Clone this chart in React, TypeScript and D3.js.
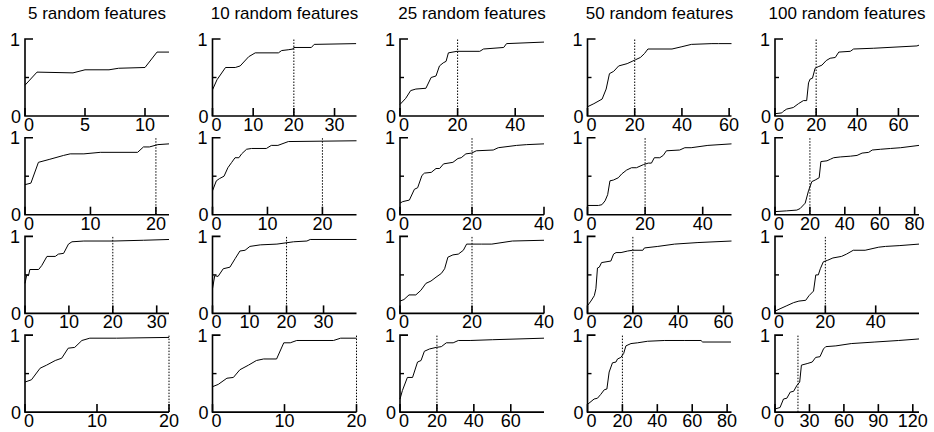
import * as d3 from 'd3';

// titles and layout of the 4 x 5 grid
const titles = ['5 random features', '10 random features', '25 random features', '50 random features', '100 random features'];

// x-axis upper limits per panel (row-major)
const xMax = [
  [12, 35.4, 50, 61, 70],
  [22, 26.2, 40, 50, 82.5],
  [32.8, 38.9, 40, 63.5, 57.2],
  [20, 20, 78, 82.5, 125.4],
];

const xTicks = [
  [[0, 5, 10], [0, 10, 20, 30], [0, 20, 40], [0, 20, 40, 60], [0, 20, 40, 60]],
  [[0, 10, 20], [0, 10, 20], [0, 20, 40], [0, 20, 40], [0, 20, 40, 60, 80]],
  [[0, 10, 20, 30], [0, 10, 20, 30], [0, 20, 40], [0, 20, 40, 60], [0, 20, 40]],
  [[0, 10, 20], [0, 10, 20], [0, 20, 40, 60], [0, 20, 40, 60, 80], [0, 30, 60, 90, 120]],
];

const marker = 20;

// curves: [x, y]
const r0c0 = [[0, 0.40], [1, 0.57], [4, 0.56], [5, 0.60], [7, 0.60], [7.8, 0.62], [10, 0.63], [11, 0.83], [12, 0.83]];
const r0c1 = [[0, 0.34], [1.1, 0.47], [3.2, 0.63], [5.6, 0.63], [6.8, 0.65], [8.9, 0.77], [10.5, 0.82], [16.2, 0.82], [17, 0.85], [18.6, 0.86], [19.8, 0.87], [20, 0.89], [24.3, 0.89], [25, 0.93], [35.3, 0.94]];
const r0c2 = [[0, 0.15], [2, 0.23], [3.7, 0.33], [5.5, 0.35], [9, 0.36], [10.8, 0.50], [12.5, 0.52], [13.7, 0.65], [15, 0.69], [16, 0.71], [16.8, 0.82], [19.8, 0.84], [27.7, 0.84], [29, 0.87], [36, 0.89], [37, 0.94], [50, 0.96]];
const r0c3 = [[0, 0.12], [2.7, 0.16], [6.2, 0.22], [7.9, 0.35], [9.3, 0.55], [11.1, 0.58], [13.2, 0.65], [16.8, 0.68], [18.9, 0.71], [20.3, 0.73], [22.4, 0.76], [24.1, 0.81], [25.6, 0.87], [35.8, 0.87], [40, 0.90], [44, 0.93], [52.7, 0.94], [55.5, 0.94], [61, 0.94]];
const r0c4 = [[0, 0.03], [3.3, 0.04], [4, 0.06], [5.7, 0.09], [8.9, 0.11], [11.4, 0.16], [13.8, 0.20], [15.4, 0.20], [16.3, 0.43], [17.1, 0.48], [18.2, 0.49], [19.5, 0.62], [21, 0.64], [22.8, 0.66], [24.9, 0.72], [26.8, 0.75], [29.3, 0.76], [31, 0.83], [36.6, 0.84], [38.2, 0.87], [48, 0.88], [69, 0.91], [70, 0.92]];

const r1c0 = [[0, 0.39], [0.9, 0.41], [2.05, 0.68], [3.8, 0.72], [5.9, 0.77], [6.9, 0.79], [9, 0.79], [11.5, 0.81], [17.2, 0.81], [18.1, 0.88], [19, 0.88], [20.3, 0.91], [22, 0.92]];
const r1c1 = [[0, 0.31], [0.7, 0.44], [1.3, 0.47], [2.1, 0.50], [2.8, 0.61], [3.5, 0.68], [4.1, 0.74], [4.8, 0.74], [5.3, 0.79], [6.2, 0.85], [7.1, 0.86], [9.8, 0.86], [10.7, 0.90], [11.9, 0.90], [13.8, 0.95], [26.2, 0.96]];
const r1c2 = [[0, 0.15], [0.75, 0.17], [2.6, 0.19], [4, 0.33], [4.9, 0.35], [6.1, 0.51], [6.8, 0.54], [8.7, 0.55], [10, 0.60], [11, 0.60], [12.1, 0.66], [14.7, 0.68], [16.1, 0.73], [17, 0.74], [18.3, 0.79], [19.9, 0.80], [21.2, 0.83], [25.9, 0.84], [27.3, 0.87], [32.4, 0.90], [35.2, 0.91], [40, 0.92]];
const r1c3 = [[0, 0.12], [3.8, 0.12], [5, 0.13], [6.1, 0.18], [7, 0.26], [7.8, 0.44], [9, 0.45], [10.7, 0.48], [11.9, 0.53], [13.6, 0.58], [15.3, 0.61], [17, 0.61], [19.4, 0.65], [21.1, 0.67], [22.2, 0.67], [23.2, 0.74], [25.1, 0.74], [26.3, 0.77], [27.4, 0.83], [32, 0.84], [33.8, 0.87], [36, 0.87], [41.8, 0.90], [50, 0.92]];
const r1c4 = [[0, 0.04], [6.7, 0.05], [12.5, 0.06], [14.4, 0.08], [17.3, 0.15], [19.2, 0.31], [21.1, 0.43], [23, 0.45], [25.3, 0.48], [26.3, 0.69], [29.8, 0.70], [31.7, 0.72], [33.6, 0.74], [37.4, 0.75], [43.2, 0.76], [47, 0.77], [49.9, 0.80], [53.7, 0.81], [55.7, 0.84], [60.5, 0.85], [66.2, 0.86], [72, 0.87], [82.5, 0.90]];

const r2c0 = [[0, 0.39], [0.4, 0.50], [0.8, 0.49], [1.1, 0.57], [3.1, 0.57], [3.8, 0.62], [5, 0.74], [6.9, 0.74], [7.6, 0.77], [8.8, 0.78], [9.9, 0.90], [10.7, 0.93], [13.4, 0.94], [20.2, 0.94], [27, 0.95], [32.8, 0.96]];
const r2c1 = [[0, 0.32], [0.6, 0.49], [1.5, 0.48], [2.9, 0.58], [4.7, 0.60], [6.1, 0.71], [7.4, 0.81], [8.8, 0.82], [10.1, 0.87], [12.9, 0.89], [17.4, 0.90], [21.9, 0.93], [25.5, 0.94], [26.4, 0.96], [38.9, 0.96]];
const r2c2 = [[0, 0.16], [1.1, 0.18], [2.5, 0.24], [4.4, 0.24], [5.8, 0.30], [7.2, 0.39], [8.6, 0.42], [10, 0.47], [11.5, 0.52], [12.4, 0.58], [13.3, 0.73], [14.7, 0.76], [16.2, 0.77], [17.6, 0.82], [18.5, 0.90], [22.7, 0.90], [25.5, 0.90], [31.2, 0.94], [40, 0.95]];
const r2c3 = [[0, 0.10], [1.5, 0.16], [3, 0.23], [3.7, 0.32], [4.4, 0.59], [5.2, 0.60], [6.2, 0.66], [10.3, 0.68], [11.5, 0.77], [12.6, 0.79], [14.8, 0.79], [17.7, 0.81], [19.9, 0.82], [24.4, 0.82], [25.1, 0.85], [31, 0.87], [38.4, 0.90], [48.7, 0.92], [63.5, 0.94]];
const r2c4 = [[0, 0.03], [2, 0.06], [4.7, 0.10], [7.4, 0.14], [9.5, 0.16], [12.2, 0.17], [13.5, 0.23], [15.3, 0.29], [16.2, 0.50], [17.2, 0.50], [18, 0.58], [19.2, 0.67], [20.9, 0.69], [23, 0.72], [26.4, 0.74], [28.4, 0.77], [31.1, 0.82], [35.8, 0.82], [41.2, 0.86], [43.9, 0.87], [49.3, 0.88], [57.2, 0.90]];

const r3c0 = [[0, 0.39], [0.9, 0.42], [2.1, 0.57], [3, 0.61], [4.2, 0.67], [5.1, 0.70], [6, 0.83], [6.9, 0.84], [7.9, 0.93], [9, 0.96], [12.7, 0.96], [20, 0.97]];
const r3c1 = [[0, 0.33], [0.8, 0.36], [2, 0.44], [2.9, 0.45], [3.8, 0.55], [5, 0.61], [6.1, 0.67], [7.1, 0.69], [8.9, 0.69], [9.9, 0.90], [10.8, 0.90], [11.7, 0.93], [16.8, 0.93], [17.8, 0.96], [20, 0.96]];
const r3c2 = [[0, 0.17], [1.3, 0.28], [4, 0.45], [6.8, 0.45], [9.5, 0.65], [11.4, 0.67], [13.2, 0.79], [16, 0.82], [19.6, 0.84], [22.4, 0.85], [25.1, 0.90], [28.8, 0.90], [31.6, 0.93], [38, 0.93], [50, 0.94], [78, 0.96]];
const r3c3 = [[0, 0.10], [3.8, 0.17], [5.7, 0.18], [7.6, 0.23], [9.6, 0.29], [11.1, 0.30], [12.4, 0.52], [14.3, 0.64], [16.3, 0.65], [17.2, 0.69], [19.1, 0.71], [20.7, 0.76], [22, 0.86], [24.9, 0.89], [28.7, 0.90], [34.4, 0.92], [44, 0.93], [55.4, 0.93], [65, 0.93], [66, 0.91], [82.2, 0.91]];
const r3c4 = [[0, 0.04], [4.4, 0.06], [7.4, 0.17], [10.3, 0.18], [13.3, 0.26], [16.2, 0.27], [19.2, 0.35], [21.5, 0.39], [23, 0.61], [28, 0.63], [32.4, 0.65], [35.4, 0.71], [39.2, 0.72], [42.2, 0.82], [44.2, 0.85], [53, 0.86], [66.4, 0.89], [87, 0.91], [107.7, 0.93], [125.4, 0.95]];

const curves = [
  [r0c0, r0c1, r0c2, r0c3, r0c4],
  [r1c0, r1c1, r1c2, r1c3, r1c4],
  [r2c0, r2c1, r2c2, r2c3, r2c4],
  [r3c0, r3c1, r3c2, r3c3, r3c4],
];

const W = 934, H = 432;
const PW = 144, PH = 77;
const FONT = 'Liberation Sans, Arial, Helvetica, sans-serif';
const TICK_FS = 18;

function Panel({ row, col }: { row: number; col: number }) {
  const left = 25 + col * 187.5;
  const top = 39 + row * 98.7;
  const x = d3.scaleLinear().domain([0, xMax[row][col]]).range([left, left + PW]);
  const y = d3.scaleLinear().domain([0, 1]).range([top + PH, top]);
  const line = d3.line<number[]>().x(d => x(d[0])).y(d => y(d[1]));
  const showMarker = marker <= xMax[row][col];

  return (
    <g>
      {row === 0 && (
        <text x={left + PW / 2} y={19} textAnchor="middle" fontSize={17} fontFamily={FONT}>{titles[col]}</text>
      )}
      {showMarker && (
        <line x1={x(marker)} x2={x(marker)} y1={y(0)} y2={y(1)} stroke="#000" strokeWidth={1} strokeDasharray="1.5,1.5" />
      )}
      <path d={line(curves[row][col] as number[][]) ?? ''} fill="none" stroke="#000" strokeWidth={1} />
      {/* axes */}
      <path d={`M${x(0) + 8},${y(1)}H${x(0)}V${y(0)}H${left + PW}`} fill="none" stroke="#000" strokeWidth={1.6} />
      <line x1={x(0)} x2={x(0) + 4} y1={y(0.5)} y2={y(0.5)} stroke="#000" strokeWidth={1.4} />
      {xTicks[row][col].map(t => (
        <g key={t}>
          <line x1={x(t)} x2={x(t)} y1={y(0)} y2={y(0) - 8} stroke="#000" strokeWidth={1.6} />
          <text x={x(t) + (t === 0 ? 4 : 0)} y={y(0) + 15} textAnchor="middle" fontSize={TICK_FS} fontFamily={FONT}>{t}</text>
        </g>
      ))}
      <text x={x(0) - 5} y={y(1) + 6.5} textAnchor="end" fontSize={TICK_FS} fontFamily={FONT}>1</text>
      <text x={x(0) - 4} y={y(0) + 6.5} textAnchor="end" fontSize={TICK_FS} fontFamily={FONT}>0</text>
    </g>
  );
}

export default function App() {
  return (
    <div style={{ position: 'absolute', left: 0, top: 0 }}>
      <svg width={W} height={H} style={{ display: 'block', background: '#fff' }}>
        {curves.map((rowCurves, r) => rowCurves.map((_, c) => <Panel key={`${r}-${c}`} row={r} col={c} />))}
      </svg>
    </div>
  );
}
